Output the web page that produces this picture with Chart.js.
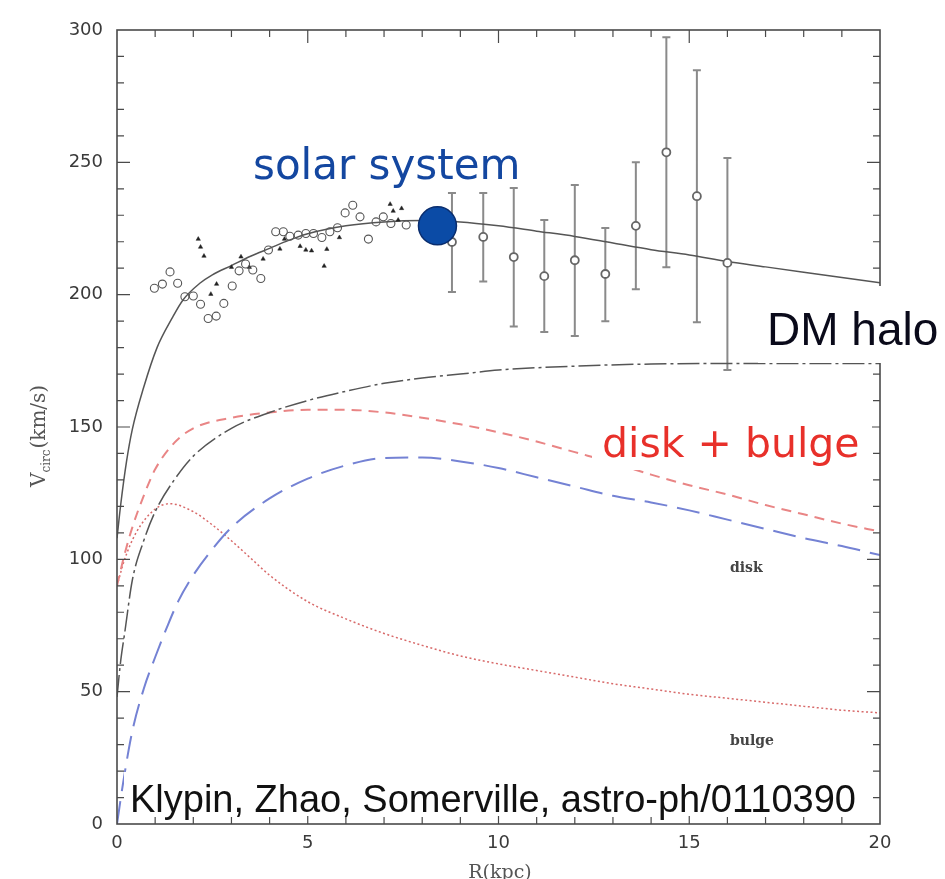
<!DOCTYPE html>
<html>
<head>
<meta charset="utf-8">
<script src="https://cdn.jsdelivr.net/npm/chart.js@4.4.1/dist/chart.umd.min.js"></script>
<style>
  html, body { margin: 0; padding: 0; background: #fff; }
</style>
</head>
<body>
<canvas id="chart" width="945" height="879"></canvas>
<script>
(function () {

  // model curves (R in kpc, V in km/s)
  const totalR = [0, 0.1, 0.25, 0.4, 0.7, 1.05, 1.44, 1.73, 2.18, 2.5, 3, 3.5, 4, 4.5, 5, 6, 7, 8, 9, 10, 11, 12, 13, 14, 15, 16, 17, 18, 19, 20];
  const totalV = [108, 121, 137, 149, 165, 180, 191, 198, 204.4, 207.5, 211, 214.5, 217.5, 220.5, 223, 226, 227.5, 228, 227.5, 226, 224, 222, 219.5, 217, 215, 212.5, 210.5, 208.5, 206.5, 204.5];

  const haloR = [0, 0.1, 0.2, 0.4, 0.7, 1, 1.5, 2, 3, 4, 5, 6, 7, 8, 9, 10, 12, 14, 16, 18, 20];
  const haloV = [48, 62, 72, 92, 107, 118, 130, 139, 149.5, 155.5, 160, 163.5, 166.5, 168.5, 170, 171.5, 173, 173.8, 174, 174, 174];

  const diskBulgeR = [0, 0.2, 0.4, 0.7, 1, 1.5, 2, 3, 4, 5, 6, 7, 8, 9, 10, 11, 12, 13, 14, 15, 16, 17, 18, 19, 20];
  const diskBulgeV = [90, 102, 112, 124, 134, 144, 149.5, 153.5, 155.5, 156.5, 156.5, 155.5, 153.5, 151, 148, 144.5, 140.5, 136.5, 132, 128, 124.5, 120.5, 117, 113.5, 110.5];

  const diskR = [0, 0.16, 0.4, 0.7, 1, 1.3, 1.6, 2, 2.4, 3, 4, 5, 6, 7, 8, 9, 10, 11, 12, 13, 14, 15, 16, 17, 18, 19, 20];
  const diskV = [0, 15.5, 35, 51, 63, 74, 84, 94, 102, 112, 123, 130.5, 135.5, 138.3, 138.5, 137, 134.5, 131, 127.5, 124, 121.5, 118.5, 115, 111.5, 108, 105, 101.6];

  const bulgeR = [0, 0.2, 0.5, 1, 1.4, 2, 2.5, 3, 3.5, 4, 5, 6, 7, 8, 9, 10, 11, 12, 13, 14, 15, 16, 17, 18, 19, 20];
  const bulgeV = [90, 100, 110, 119, 121, 118, 113, 107, 100.5, 94, 84, 77.5, 72, 67.5, 63.5, 60.5, 58, 55.5, 53, 51, 49, 47.5, 46, 44.5, 43, 42];

  // observations
  const openR = [0.98, 1.19, 1.39, 1.59, 1.78, 2.0, 2.19, 2.39, 2.6, 2.8, 3.02, 3.2, 3.37, 3.56, 3.77, 3.97, 4.16, 4.36, 4.53, 4.75, 4.95, 5.15, 5.37, 5.58, 5.78, 5.98, 6.18, 6.37, 6.59, 6.79, 6.98, 7.18, 7.58];
  const openV = [202.4, 204, 208.6, 204.3, 199.2, 199.5, 196.4, 191, 191.9, 196.7, 203.3, 209, 211.6, 209.3, 206.1, 216.9, 223.8, 223.8, 222.1, 222.5, 223.1, 223.1, 221.6, 223.8, 225.3, 230.9, 233.8, 229.4, 221, 227.5, 229.4, 226.9, 226.3];

  const triR = [2.13, 2.19, 2.28, 2.46, 2.61, 3.0, 3.25, 3.47, 3.83, 4.27, 4.39, 4.8, 4.95, 5.1, 5.43, 5.5, 5.83, 7.16, 7.24, 7.37, 7.46];
  const triV = [221, 218, 214.6, 200.2, 204, 210.4, 214.3, 210.4, 213.5, 217.3, 221, 218.3, 216.9, 216.6, 210.8, 217.2, 221.6, 234.2, 231.6, 228.2, 232.6];

  const errR  = [8.78, 9.6, 10.4, 11.2, 12.0, 12.8, 13.6, 14.4, 15.2, 16.0];
  const errV  = [219.9, 221.8, 214.2, 207, 213, 207.8, 226, 253.8, 237.2, 212];
  const errLo = [201, 205, 188, 185.9, 184.4, 190, 202, 210.4, 189.6, 171.5];
  const errHi = [238.4, 238.4, 240.3, 228.2, 241.4, 225.2, 250, 297.3, 284.8, 251.6];

  const sunR = [8.4];
  const sunV = [226];

  const xTicks = [0, 5, 10, 15, 20];
  const yTicks = [0, 50, 100, 150, 200, 250, 300];

  const pts = (xs, ys) => xs.map((x, i) => ({ x: x, y: ys[i] }));

  // error bars through the scales
  const errorBars = {
    id: 'errorBars',
    beforeDatasetsDraw(chart) {
      const { ctx, scales: { x, y } } = chart;
      ctx.save();
      ctx.strokeStyle = '#8a8a8a';
      ctx.lineWidth = 2;
      ctx.beginPath();
      errR.forEach((r, i) => {
        const px = x.getPixelForValue(r);
        const lo = y.getPixelForValue(errLo[i]);
        const hi = y.getPixelForValue(errHi[i]);
        ctx.moveTo(px, lo); ctx.lineTo(px, hi);
        ctx.moveTo(px - 4, lo); ctx.lineTo(px + 4, lo);
        ctx.moveTo(px - 4, hi); ctx.lineTo(px + 4, hi);
      });
      ctx.stroke();
      ctx.restore();
    }
  };

  // box with inner ticks on all sides
  const frame = {
    id: 'frame',
    afterDatasetsDraw(chart) {
      const { ctx, chartArea: a, scales: { x, y } } = chart;
      ctx.save();
      ctx.strokeStyle = '#4a4a4a';
      ctx.lineWidth = 1.2;
      ctx.beginPath();
      for (let v = 1; v < 20; v++) {
        const px = x.getPixelForValue(v);
        const len = v % 5 ? 7 : 13;
        ctx.moveTo(px, a.bottom); ctx.lineTo(px, a.bottom - len);
        ctx.moveTo(px, a.top);    ctx.lineTo(px, a.top + len);
      }
      for (let v = 10; v < 300; v += 10) {
        const py = y.getPixelForValue(v);
        const len = v % 50 ? 7 : 13;
        ctx.moveTo(a.left, py);  ctx.lineTo(a.left + len, py);
        ctx.moveTo(a.right, py); ctx.lineTo(a.right - len, py);
      }
      ctx.stroke();
      ctx.lineWidth = 1.6;
      ctx.strokeRect(a.left, a.top, a.right - a.left, a.bottom - a.top);
      ctx.restore();
    }
  };

  // annotations and axis titles
  const labels = {
    id: 'labels',
    afterDraw(chart) {
      const { ctx } = chart;
      ctx.save();

      ctx.fillStyle = '#fff';
      ctx.fillRect(758, 286, 187, 77);
      ctx.fillRect(592, 414, 280, 56);
      ctx.fillRect(124, 772, 742, 44);

      ctx.textBaseline = 'alphabetic';
      ctx.textAlign = 'left';

      ctx.fillStyle = '#1447a0';
      ctx.font = '42px "DejaVu Sans"';
      ctx.fillText('solar system', 253, 179);

      ctx.fillStyle = '#e8302a';
      ctx.font = '41px "DejaVu Sans"';
      ctx.fillText('disk + bulge', 602, 457);

      ctx.fillStyle = '#0a0a1a';
      ctx.font = '46px "Liberation Sans"';
      ctx.fillText('DM halo', 767, 345);

      ctx.fillStyle = '#111';
      ctx.font = '38px "Liberation Sans"';
      ctx.fillText('Klypin, Zhao, Somerville, astro-ph/0110390', 130, 812);

      ctx.fillStyle = '#444';
      ctx.font = 'bold 14px "DejaVu Serif"';
      ctx.fillText('disk', 730, 572);
      ctx.fillText('bulge', 730, 745);

      // x title
      ctx.fillStyle = '#555';
      ctx.textAlign = 'center';
      ctx.font = '19px "DejaVu Serif"';
      ctx.fillText('R(kpc)', 500, 878);

      // y title with subscript
      ctx.translate(45, 487);
      ctx.rotate(-Math.PI / 2);
      ctx.textAlign = 'left';
      ctx.font = '20px "DejaVu Serif"';
      ctx.fillText('V', 0, 0);
      let w = ctx.measureText('V').width;
      ctx.font = '12px "DejaVu Serif"';
      ctx.fillText('circ', w, 5);
      w += ctx.measureText('circ').width + 1;
      ctx.font = '20px "DejaVu Serif"';
      ctx.fillText('(km/s)', w, 0);

      ctx.restore();
    }
  };

  const line = (data, color, width, dash) => ({
    type: 'line',
    data: data,
    borderColor: color,
    borderWidth: width,
    borderDash: dash,
    pointRadius: 0,
    fill: false,
    cubicInterpolationMode: 'monotone',
    order: 5
  });

  new Chart(document.getElementById('chart'), {
    type: 'scatter',
    data: {
      datasets: [
        {
          label: 'solar system',
          data: pts(sunR, sunV),
          pointRadius: 19,
          backgroundColor: '#0b4ba6',
          borderColor: '#0a2d6e',
          borderWidth: 1.5,
          clip: false,
          order: 0
        },
        {
          label: 'outer',
          data: pts(errR, errV),
          pointRadius: 4,
          backgroundColor: '#fff',
          borderColor: '#666',
          borderWidth: 1.8,
          order: 1
        },
        {
          label: 'open',
          data: pts(openR, openV),
          pointRadius: 4,
          backgroundColor: 'rgba(255,255,255,0)',
          borderColor: '#555',
          borderWidth: 1.1,
          order: 2
        },
        {
          label: 'tri',
          data: pts(triR, triV),
          pointStyle: 'triangle',
          pointRadius: 2.5,
          backgroundColor: '#222',
          borderColor: '#222',
          borderWidth: 0.5,
          order: 2
        },
        line(pts(totalR, totalV), '#555', 1.5, []),
        line(pts(haloR, haloV), '#555', 1.5, [22, 4, 3, 4]),
        line(pts(diskBulgeR, diskBulgeV), '#e98585', 2, [10, 7]),
        line(pts(diskR, diskV), '#7482d4', 2, [23, 10]),
        line(pts(bulgeR, bulgeV), '#d86a6a', 1.5, [2, 2.5])
      ]
    },
    options: {
      responsive: false,
      animation: false,
      layout: { padding: { top: 30, right: 65, left: 0, bottom: 0 } },
      plugins: { legend: { display: false }, tooltip: { enabled: false } },
      scales: {
        x: {
          type: 'linear',
          min: 0, max: 20,
          afterBuildTicks: (s) => { s.ticks = xTicks.map(v => ({ value: v })); },
          afterFit: (s) => { s.height = 55; },
          grid: { display: false, drawTicks: false },
          border: { display: false },
          ticks: { padding: 9, color: '#3a3a3a', font: { family: 'DejaVu Sans', size: 18 } }
        },
        y: {
          type: 'linear',
          min: 0, max: 300,
          afterBuildTicks: (s) => { s.ticks = yTicks.map(v => ({ value: v })); },
          afterFit: (s) => { s.width = 117; },
          grid: { display: false, drawTicks: false },
          border: { display: false },
          ticks: { padding: 14, color: '#3a3a3a', font: { family: 'DejaVu Sans', size: 18 } }
        }
      }
    },
    plugins: [errorBars, frame, labels]
  });

})();
</script>
</body>
</html>
